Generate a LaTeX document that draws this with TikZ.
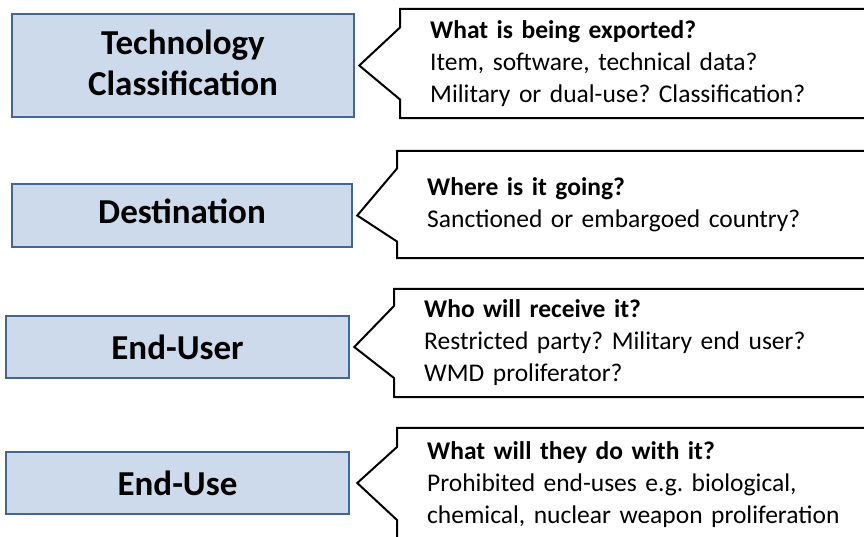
\documentclass[tikz,border=0pt]{standalone}
\usepackage{fontspec}
\setmainfont{Carlito}
\frenchspacing

\definecolor{stagefill}{RGB}{205,218,236}
\definecolor{stageline}{RGB}{68,102,148}

\begin{document}
\begin{tikzpicture}[x=1pt, y=-1pt,
  stage/.style={draw=stageline, line width=2.5pt, fill=stagefill, align=center,
    minimum width=342pt, font=\bfseries\fontsize{35}{41}\selectfont},
  question/.style={anchor=west, minimum width=500pt, minimum height=109pt,
    text width=440pt, inner xsep=30pt, align=left, font=\fontsize{25.5}{32}\selectfont},
  bubble/.style={draw, line width=2pt}]
  \clip (0,0) rectangle (864,537);

  % Technology Classification
  \node[stage, minimum height=103pt, text depth=6pt] (tech) at (183,65.5) {Technology\\Classification};
  \node[question] (techq) at (400,63.5)
    {\textbf{What is being exported?}\\Item, software, technical data?\\Military or dual-use? Classification?};
  \draw[bubble] (techq.north east) -- (techq.north west) -- ([yshift=36pt]techq.west)
    -- ([xshift=4pt]tech.east) -- ([yshift=-36pt]techq.west) -- (techq.south west) -- (techq.south east);

  % Destination
  \node[stage, minimum width=340pt, minimum height=63pt, text depth=8pt] (dest) at (182,215.5) {Destination};
  \node[question, minimum height=107pt] (destq) at (397,204.5)
    {\textbf{Where is it going?}\\Sanctioned or embargoed country?};
  \draw[bubble] (destq.north east) -- (destq.north west) -- ([yshift=36pt]destq.west)
    -- ([xshift=4pt]dest.east) -- ([yshift=-37pt]destq.west) -- (destq.south west) -- (destq.south east);

  % End-User
  \node[stage, minimum width=343pt, minimum height=62pt] (user) at (177.5,347) {End-User};
  \node[question, minimum height=108pt] (userq) at (394,343)
    {\textbf{Who will receive it?}\\Restricted party? Military end user?\\WMD proliferator?};
  \draw[bubble] (userq.north east) -- (userq.north west) -- ([yshift=37pt]userq.west)
    -- ([xshift=4pt]user.east) -- ([yshift=-35pt]userq.west) -- (userq.south west) -- (userq.south east);

  % End-Use
  \node[stage, minimum width=343pt, minimum height=62pt] (use) at (177.5,483) {End-Use};
  \node[question, minimum height=114pt] (useq) at (397,485)
    {\textbf{What will they do with it?}\\Prohibited end-uses e.g. biological,\\chemical, nuclear weapon proliferation};
  \draw[bubble] (useq.north east) -- (useq.north west) -- ([yshift=38pt]useq.west)
    -- ([xshift=7pt]use.east) -- ([yshift=-35pt]useq.west) -- (useq.south west) -- (useq.south east);
\end{tikzpicture}
\end{document}
